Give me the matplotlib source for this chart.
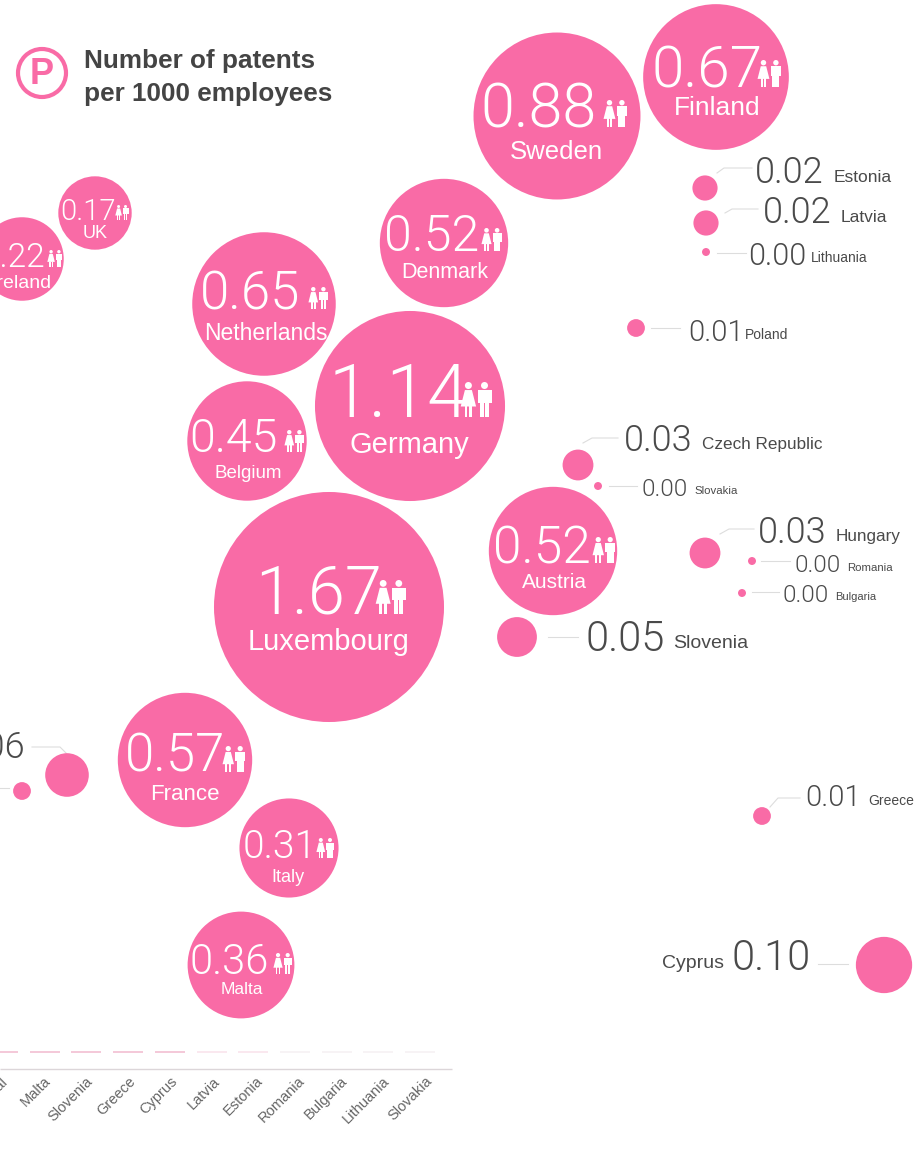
#!/usr/bin/env python
"""Patents per 1000 employees, bubble chart of EU countries."""

import matplotlib

matplotlib.use("Agg")
import matplotlib.pyplot as plt
from matplotlib.patches import Circle, Polygon, Rectangle

# bubbles with the label inside
inner_names = ["Luxembourg", "Germany", "Sweden", "Finland", "Netherlands", "Denmark", "Austria",
               "France", "Belgium", "Malta", "Italy", "UK", "Ireland"]
inner_values = [1.67, 1.14, 0.88, 0.67, 0.65, 0.52, 0.52, 0.57, 0.45, 0.36, 0.31, 0.17, 0.22]
inner_x = [329, 410, 557, 716, 264, 444, 553, 185, 247, 241, 289, 95, 22]
inner_y = [607, 406, 116, 77, 304, 243, 551, 760, 441, 965, 848, 213, 259]

# bubbles with the label outside
outer_names = ["Estonia", "Latvia", "Lithuania", "Poland", "Czech Republic", "Slovakia", "Hungary",
               "Romania", "Bulgaria", "Slovenia", "Greece", "Cyprus"]
outer_values = [0.02, 0.02, 0.002, 0.01, 0.03, 0.002, 0.03, 0.002, 0.002, 0.05, 0.01, 0.10]
outer_x = [705, 706, 706, 636, 578, 598, 705, 752, 742, 517, 762, 884]
outer_y = [188, 223, 252, 328, 465, 486, 553, 561, 593, 637, 816, 965]

# the two bubbles cut off at the left edge
cut_values = [0.06, 0.01]
cut_x = [67, 22]
cut_y = [775, 791]

# strip along the bottom
strip_names = ["Portugal", "Malta", "Slovenia", "Greece", "Cyprus", "Latvia", "Estonia",
               "Romania", "Bulgaria", "Lithuania", "Slovakia"]

PINK = "#f96ba6"
DARK = "#4a4a4a"
NUM_FONT = ["Roboto", "DejaVu Sans"]
NAME_FONT = ["Liberation Sans"]
PX = 0.72  # points per pixel at dpi 100

# layout of the inside labels: left edge and baseline of the number, size, icon, name
inner_text_x = [255, 329, 480, 651, 200, 384, 493, 125, 189, 189, 243, 60, -19]
inner_base = [614, 417, 127, 87, 309, 251, 563, 772, 452, 974, 858, 220, 267]
inner_size = [48, 53, 44, 42, 38, 36, 37, 38, 33.5, 30, 28, 21, 24]
icon_x = [375, 460, 603, 757, 308, 481, 592, 222, 284, 273, 316, 115, 47]
icon_h = [34, 35, 27, 27, 22, 23, 26, 26, 22, 21, 20, 15, 17]
name_x = [329, 409, 556, 717, 266, 445, 554, 185, 248, 242, 288, 95, 21]
name_y = [642, 445, 152, 108, 334, 272, 583, 794, 473, 990, 877, 233, 283]
name_size = [21, 21, 18.5, 19, 16.5, 15.5, 15, 16, 13.5, 12.5, 13, 13, 14]

# layout of the outside labels
outer_text_x = [755, 763, 748, 688, 624, 641, 758, 794, 782, 585, 805, 731]
outer_base = [183, 223, 265, 341, 451, 496, 543, 572, 602, 651, 806, 970]
outer_size = [26, 26, 22, 21, 26, 17.5, 26, 17.5, 17.5, 30, 21, 30]
outer_name_x = [834, 841, 811, 745, 702, 694, 836, 847, 835, 673, 868, 662]
outer_name_y = [177, 217, 258, 335, 445, 491, 537, 568, 597, 644, 801, 963]
outer_name_size = [12.5, 12.5, 10, 10, 12.3, 8.2, 12.3, 8.2, 8, 14, 10, 14]
leaders = [
    [(717, 173), (724, 168), (752, 168)],
    [(725, 213), (732, 209), (758, 209)],
    [(717, 253), (746, 253)],
    [(651, 328), (680, 328)],
    [(583, 443), (592, 438), (618, 438)],
    [(609, 486), (637, 486)],
    [(720, 534), (729, 529), (754, 529)],
    [(761, 561), (790, 561)],
    [(752, 592), (779, 592)],
    [(548, 637), (578, 637)],
    [(770, 807), (778, 798), (800, 798)],
    [(818, 964), (848, 964)],
    [(32, 747), (60, 747), (67, 754)],
    [(0, 788), (9, 788)],
]


def bubble_size(value):
    """Area of the marker in points squared, area follows the value."""
    return (2 * 89 * PX) ** 2 * value


def draw_people(ax, left, bottom, h):
    """Small woman and man pictogram, standing on ``bottom``."""
    top = bottom - h
    # woman
    wx = left + 0.24 * h
    ax.add_patch(Circle((wx, top + 0.1 * h), 0.1 * h, color="white", lw=0, zorder=4))
    ax.add_patch(Polygon([(wx - 0.1 * h, top + 0.23 * h), (wx + 0.1 * h, top + 0.23 * h),
                          (wx + 0.22 * h, top + 0.7 * h), (wx - 0.22 * h, top + 0.7 * h)],
                         color="white", lw=0, zorder=4))
    ax.add_patch(Rectangle((wx - 0.11 * h, top + 0.68 * h), 0.08 * h, 0.32 * h, color="white", lw=0, zorder=4))
    ax.add_patch(Rectangle((wx + 0.03 * h, top + 0.68 * h), 0.08 * h, 0.32 * h, color="white", lw=0, zorder=4))
    # man
    mx = left + 0.7 * h
    ax.add_patch(Circle((mx, top + 0.1 * h), 0.1 * h, color="white", lw=0, zorder=4))
    ax.add_patch(Rectangle((mx - 0.2 * h, top + 0.23 * h), 0.4 * h, 0.36 * h, color="white", lw=0, zorder=4))
    ax.add_patch(Rectangle((mx - 0.13 * h, top + 0.55 * h), 0.12 * h, 0.45 * h, color="white", lw=0, zorder=4))
    ax.add_patch(Rectangle((mx + 0.01 * h, top + 0.55 * h), 0.12 * h, 0.45 * h, color="white", lw=0, zorder=4))


fig = plt.figure(figsize=(9.22, 11.58), dpi=100)
ax = fig.add_axes([0, 0, 1, 1])
ax.set_xlim(0, 922)
ax.set_ylim(1158, 0)
ax.axis("off")

all_x = inner_x + outer_x + cut_x
all_y = inner_y + outer_y + cut_y
all_values = inner_values + outer_values + cut_values
ax.scatter(all_x, all_y, s=[bubble_size(v) for v in all_values], color=PINK, lw=0, zorder=2)

for i, name in enumerate(inner_names):
    ax.text(inner_text_x[i], inner_base[i], f"{inner_values[i]:.2f}", family=NUM_FONT, weight=300,
            fontsize=inner_size[i], color="white", ha="left", va="baseline", zorder=4)
    draw_people(ax, icon_x[i], inner_base[i], icon_h[i])
    ax.text(name_x[i], name_y[i], name, family=NAME_FONT, fontsize=name_size[i], color="white",
            ha="center", va="center", zorder=4)

for i, name in enumerate(outer_names):
    ax.text(outer_text_x[i], outer_base[i], f"{outer_values[i]:.2f}", family=NUM_FONT, weight=300,
            fontsize=outer_size[i], color=DARK, ha="left", va="baseline", zorder=4)
    ax.text(outer_name_x[i], outer_name_y[i], name, family=NAME_FONT, fontsize=outer_name_size[i], color=DARK,
            ha="left", va="center", zorder=4)

# number of the bubble cut off on the left, mostly outside the picture
ax.text(25, 758, f"{cut_values[0]:.2f}", family=NUM_FONT, weight=300, fontsize=26, color=DARK,
        ha="right", va="baseline", zorder=4)

for pts in leaders:
    ax.plot([p[0] for p in pts], [p[1] for p in pts], color="#dddddd", lw=0.8, zorder=1)

# legend title
ax.add_patch(Circle((42, 73), 24, facecolor="none", edgecolor=PINK, lw=3, zorder=3))
ax.text(42, 74, "P", family=["Liberation Sans"], weight="bold", fontsize=26, color=PINK,
        ha="center", va="center", zorder=4)
ax.text(84, 61, "Number of patents", family=NAME_FONT, weight="bold", fontsize=18.8, color="#444444",
        ha="left", va="center")
ax.text(84, 94, "per 1000 employees", family=NAME_FONT, weight="bold", fontsize=18.8, color="#444444",
        ha="left", va="center")

# bottom strip of an almost empty bar chart
strip_colors = ["#f2bfd2"] * 5 + ["#f9e4ec"] * 2 + ["#f6f1f3"] * 4
for i, name in enumerate(strip_names):
    center = 3 + i * 41.7
    ax.hlines(1051.5, center - 15, center + 15, color=strip_colors[i], lw=1.2)
    ax.text(center - 2 + i * 0.7, 1074, name, family=["Liberation Sans"], fontsize=10.5, color="#666666",
            rotation=45, rotation_mode="anchor", ha="right", va="top")
ax.hlines(1069, 0, 452, color="#dcd6d9", lw=1)

fig.savefig("out.png", dpi=100, facecolor="white")
plt.close(fig)
